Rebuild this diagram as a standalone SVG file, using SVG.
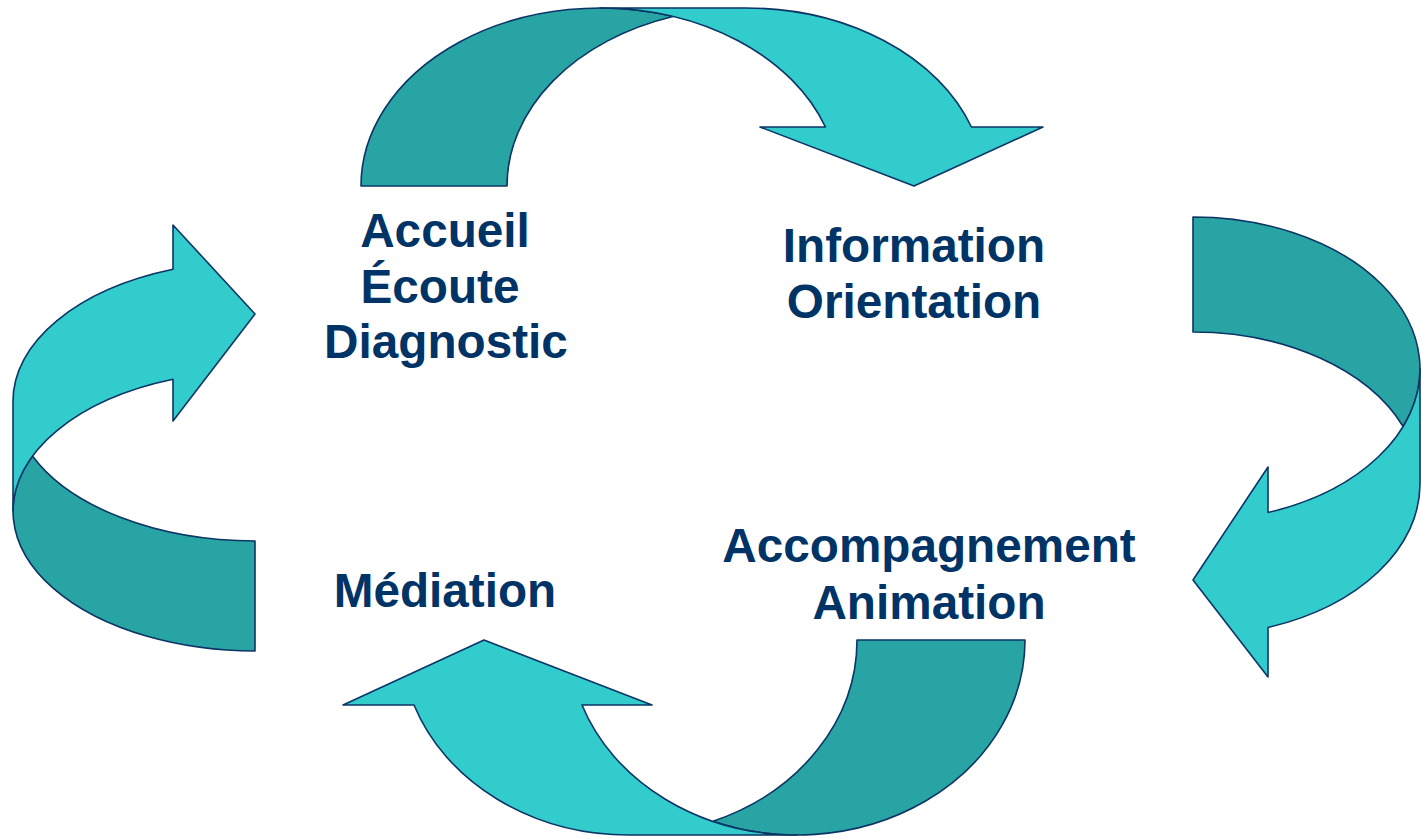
<svg xmlns="http://www.w3.org/2000/svg" width="1422" height="839" viewBox="0 0 1422 839">
  <style>
    .back { fill: #29A4A4; stroke: #0B3566; stroke-width: 1.6; stroke-linejoin: round; }
    .front { fill: #33CCCC; stroke: #0B3566; stroke-width: 1.6; stroke-linejoin: round; }
    .lbl { font-family: "Liberation Sans", Arial, sans-serif; font-weight: bold; font-size: 47.7px; fill: #003366; text-anchor: middle; }
  </style>
  <rect width="1422" height="839" fill="#FFFFFF"/>
  <g id="connectors">
    <g id="arrow-top">
      <path class="back" d="M361,186 A239,178 0 0,1 673,16.5 A239,178 0 0,0 507,186 Z"/>
      <path class="front" d="M600,8 L746,8 A239,178 0 0,1 971.4,127 L1043,127 L914,186 L760,127 L825.4,127 A239,178 0 0,0 600,8 Z"/>
    </g>
    <g id="arrow-right">
      <path class="back" d="M1193,217 A227,152 0 0,1 1403.1,426.5 A227,152 0 0,0 1193,332 Z"/>
      <path class="front" d="M1420,369 L1420,484 A227,152 0 0,1 1268,627.5 L1268,677 L1193,580 L1268,467 L1268,512.5 A227,152 0 0,0 1420,369 Z"/>
    </g>
    <g id="arrow-bottom">
      <path class="back" d="M1025,640 A228,195 0 0,1 713,821.3 A228,195 0 0,0 857,640 Z"/>
      <path class="front" d="M797,835 L629,835 A228,195 0 0,1 414,705 L343,705 L484,640 L652,705 L582,705 A228,195 0 0,0 797,835 Z"/>
    </g>
    <g id="arrow-left">
      <path class="back" d="M255,651 A242,140 0 0,1 32.5,456 A242,140 0 0,0 255,541 Z"/>
      <path class="front" d="M13,511 L13,401 A242,140 0 0,1 173,269.3 L173,225 L255,314 L173,421 L173,379.3 A242,140 0 0,0 13,511 Z"/>
    </g>
  </g>
  <g id="node-accueil">
    <text class="lbl" x="445" y="247">Accueil</text>
    <text class="lbl" x="440" y="303">Écoute</text>
    <text class="lbl" x="446" y="358">Diagnostic</text>
  </g>
  <g id="node-information">
    <text class="lbl" x="914" y="262">Information</text>
    <text class="lbl" x="914" y="318">Orientation</text>
  </g>
  <g id="node-accompagnement">
    <text class="lbl" x="929" y="562">Accompagnement</text>
    <text class="lbl" x="929" y="619">Animation</text>
  </g>
  <g id="node-mediation">
    <text class="lbl" x="445" y="607">Médiation</text>
  </g>
</svg>
